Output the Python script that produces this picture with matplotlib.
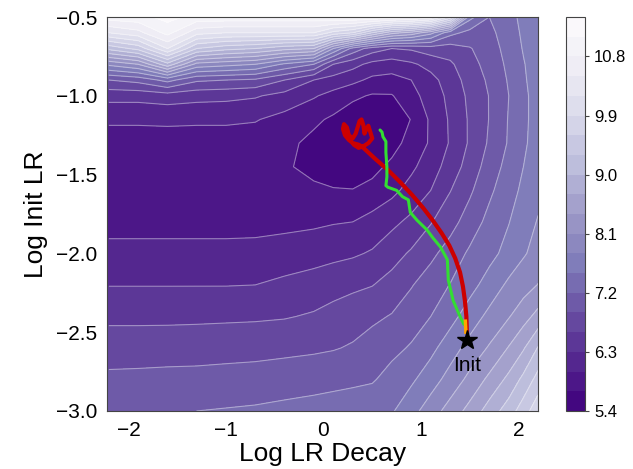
import numpy as np
import matplotlib
matplotlib.use("Agg")
import matplotlib.pyplot as plt

plt.rcParams['font.family'] = ['Liberation Sans', 'DejaVu Sans']

# loss surface (rows = log init lr, cols = log lr decay)
grid_x = [-2.2, -1.9, -1.6, -1.3, -1.0, -0.7, -0.4, -0.1, 0.1, 0.3, 0.5, 0.7, 0.9, 1.1, 1.3, 1.5, 1.7, 1.9, 2.05, 2.2]
grid_y = [-3.0, -2.8, -2.6, -2.4, -2.2, -2.0, -1.8, -1.6, -1.45, -1.3, -1.15, -1.0, -0.9, -0.8, -0.7, -0.6, -0.5]
loss = [
    [7.10, 7.13, 7.16, 7.20, 7.22, 7.24, 7.27, 7.30, 7.33, 7.37, 7.41, 7.47, 7.69, 7.96, 8.22, 8.50, 8.83, 9.15, 9.46, 9.80],
    [6.96, 6.97, 6.98, 6.99, 7.01, 7.03, 7.07, 7.10, 7.12, 7.14, 7.17, 7.31, 7.45, 7.66, 7.92, 8.18, 8.47, 8.78, 9.08, 9.41],
    [6.77, 6.77, 6.78, 6.78, 6.79, 6.80, 6.82, 6.85, 6.88, 6.93, 7.03, 7.12, 7.23, 7.42, 7.66, 7.91, 8.13, 8.42, 8.67, 9.02],
    [6.53, 6.53, 6.53, 6.54, 6.55, 6.56, 6.58, 6.63, 6.70, 6.77, 6.84, 6.92, 7.06, 7.20, 7.40, 7.64, 7.88, 8.08, 8.28, 8.50],
    [6.29, 6.29, 6.29, 6.29, 6.29, 6.30, 6.37, 6.44, 6.49, 6.54, 6.59, 6.71, 6.88, 7.05, 7.21, 7.40, 7.62, 7.86, 7.97, 8.11],
    [6.07, 6.07, 6.07, 6.07, 6.07, 6.08, 6.12, 6.17, 6.22, 6.26, 6.33, 6.48, 6.64, 6.83, 7.03, 7.25, 7.41, 7.60, 7.77, 7.90],
    [5.92, 5.92, 5.92, 5.92, 5.92, 5.92, 5.93, 5.95, 5.98, 6.00, 6.11, 6.23, 6.37, 6.58, 6.79, 7.04, 7.29, 7.49, 7.66, 7.82],
    [5.84, 5.84, 5.84, 5.84, 5.84, 5.83, 5.80, 5.76, 5.72, 5.71, 5.78, 5.92, 6.11, 6.30, 6.59, 6.85, 7.14, 7.39, 7.56, 7.72],
    [5.83, 5.83, 5.83, 5.83, 5.83, 5.81, 5.74, 5.61, 5.55, 5.54, 5.62, 5.76, 5.94, 6.16, 6.43, 6.73, 7.03, 7.31, 7.50, 7.70],
    [5.88, 5.88, 5.88, 5.88, 5.88, 5.85, 5.78, 5.62, 5.52, 5.46, 5.47, 5.60, 5.80, 6.04, 6.33, 6.64, 6.94, 7.23, 7.44, 7.66],
    [6.04, 6.04, 6.05, 6.04, 6.04, 6.02, 5.90, 5.76, 5.65, 5.52, 5.45, 5.52, 5.71, 6.05, 6.34, 6.64, 6.91, 7.22, 7.43, 7.63],
    [6.40, 6.40, 6.45, 6.40, 6.38, 6.33, 6.20, 6.03, 5.90, 5.76, 5.67, 5.68, 5.90, 6.13, 6.38, 6.67, 6.91, 7.20, 7.43, 7.63],
    [6.90, 7.00, 7.30, 6.95, 6.90, 6.85, 6.60, 6.30, 6.18, 6.08, 5.93, 5.90, 6.00, 6.20, 6.45, 6.72, 6.95, 7.23, 7.46, 7.64],
    [7.87, 8.10, 8.90, 8.00, 7.90, 7.80, 7.45, 7.20, 6.60, 6.40, 6.21, 6.15, 6.25, 6.40, 6.55, 6.80, 7.00, 7.27, 7.48, 7.66],
    [9.09, 9.40, 10.2, 9.30, 9.10, 9.00, 8.80, 8.70, 7.80, 7.10, 6.75, 6.60, 6.64, 6.75, 6.75, 6.88, 7.05, 7.32, 7.52, 7.68],
    [10.2, 10.4, 10.9, 10.3, 10.2, 10.2, 10.2, 10.2, 9.80, 9.60, 9.00, 8.50, 8.30, 7.90, 7.30, 7.10, 7.12, 7.36, 7.55, 7.70],
    [10.95, 11.0, 11.2, 11.0, 11.0, 11.0, 11.0, 11.0, 11.1, 11.1, 11.1, 11.0, 10.9, 10.7, 9.80, 7.60, 7.20, 7.40, 7.58, 7.72],
]

# optimisation trajectories
red_x = [1.47, 1.465, 1.45, 1.43, 1.40, 1.35, 1.29, 1.21, 1.12, 1.02, 0.91, 0.79, 0.66, 0.53, 0.40,
         0.36, 0.30, 0.26, 0.22, 0.20, 0.21, 0.24, 0.26, 0.30, 0.33, 0.35, 0.37, 0.39, 0.41, 0.42, 0.44,
         0.46, 0.48, 0.50, 0.46, 0.41, 0.36, 0.31]
red_y = [-2.50, -2.40, -2.30, -2.21, -2.12, -2.03, -1.95, -1.87, -1.79, -1.71, -1.63, -1.55, -1.47, -1.40, -1.325,
         -1.31, -1.30, -1.28, -1.25, -1.21, -1.18, -1.20, -1.25, -1.27, -1.24, -1.20, -1.16, -1.15, -1.19, -1.24, -1.21,
         -1.19, -1.23, -1.27, -1.30, -1.32, -1.33, -1.31]
green_x = [1.44, 1.40, 1.33, 1.28, 1.27, 1.20, 1.12, 1.06, 0.96, 0.89, 0.87, 0.81, 0.75, 0.66, 0.64,
           0.65, 0.65, 0.64, 0.64, 0.61, 0.60, 0.58]
green_y = [-2.45, -2.40, -2.30, -2.17, -2.04, -1.96, -1.90, -1.85, -1.79, -1.74, -1.66, -1.64, -1.60, -1.58, -1.57,
           -1.515, -1.45, -1.36, -1.29, -1.26, -1.23, -1.217]
orange_x = [1.46, 1.455]
orange_y = [-2.50, -2.43]
init_x, init_y = 1.47, -2.55

levels = np.linspace(5.4, 11.4, 21)

fig = plt.figure(figsize=(6.33, 4.69), dpi=100)
ax = fig.add_axes([0.169, 0.1237, 0.681, 0.840])
cax = fig.add_axes([0.894, 0.1237, 0.030, 0.840])

X, Y = np.meshgrid(grid_x, grid_y)
Z = np.array(loss)
cs = ax.contourf(X, Y, Z, levels=levels, cmap='Purples_r')
ax.contour(X, Y, Z, levels=levels, colors='white', linewidths=0.8, alpha=0.4)

ax.plot(red_x, red_y, color='#cc0000', lw=3, solid_capstyle='round', solid_joinstyle='round', zorder=3)
ax.plot(green_x, green_y, color='#33dd33', lw=2.2, solid_capstyle='round', zorder=4)
ax.plot(orange_x, orange_y, color='#ffa500', lw=2.5, zorder=5)
ax.plot(init_x, init_y, marker='*', color='black', markersize=15, zorder=6)
ax.text(init_x, init_y - 0.1, 'Init', ha='center', va='top', fontsize=15)

ax.set_xlim(-2.22, 2.2)
ax.set_ylim(-3.0, -0.5)
ax.set_xticks([-2, -1, 0, 1, 2])
ax.set_yticks([-3.0, -2.5, -2.0, -1.5, -1.0, -0.5])
ax.tick_params(labelsize=15, length=0, pad=7)
ax.set_xlabel('Log LR Decay', fontsize=19, labelpad=2)
ax.set_ylabel('Log Init LR', fontsize=19, labelpad=6)
for s in ax.spines.values():
    s.set_color('#444444')

cb = fig.colorbar(cs, cax=cax)
cb.ax.tick_params(labelsize=12, length=3, color='#444444')
cb.outline.set_edgecolor('#444444')

fig.savefig('out.png', dpi=100)
